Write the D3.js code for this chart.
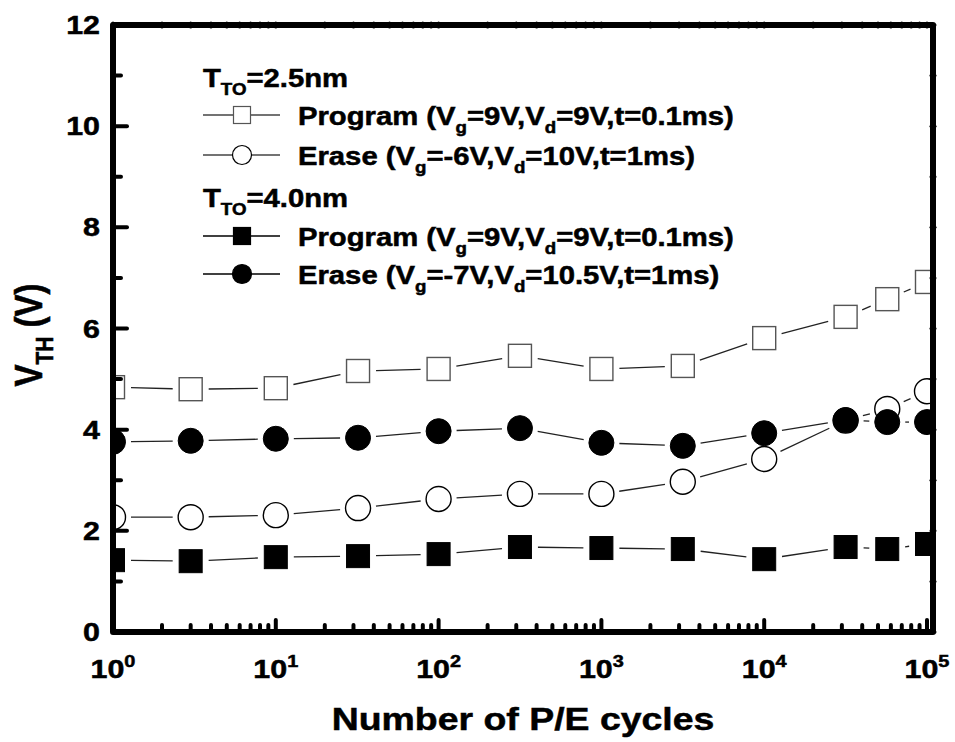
<!DOCTYPE html>
<html><head><meta charset="utf-8">
<script src="https://cdn.jsdelivr.net/npm/d3@7"></script>
<style>
html,body{margin:0;padding:0;background:#fff;}
svg{display:block;font-family:"Liberation Sans",Arial,sans-serif;font-weight:bold;}
svg text{stroke:#000;stroke-width:0.5px;}
</style></head>
<body><svg id="chart" width="955" height="742"></svg>
<script>
// ---- data ----
const cycles = [1, 3, 10, 32, 100, 316, 1000, 3162, 10000, 31623, 57000, 100000];
const progT25  = [4.84, 4.80, 4.82, 5.16, 5.20, 5.46, 5.20, 5.26, 5.81, 6.23, 6.58, 6.92];
const eraseT25 = [2.27, 2.27, 2.31, 2.45, 2.63, 2.73, 2.73, 2.97, 3.42, 4.18, 4.41, 4.76];
const progT40  = [1.42, 1.40, 1.48, 1.50, 1.54, 1.68, 1.66, 1.64, 1.44, 1.68, 1.64, 1.74];
const eraseT40 = [3.76, 3.78, 3.82, 3.84, 3.97, 4.03, 3.74, 3.68, 3.93, 4.19, 4.15, 4.15];
const yTickValues = [0, 2, 4, 6, 8, 10, 12];
const yMinorValues = [1, 3, 5, 7, 9, 11];
const xMajorExponents = [0, 1, 2, 3, 4, 5];
const legendHeaders = ["2.5nm", "4.0nm"];
const legendPrograms = [["9V", "9V", "0.1ms"], ["9V", "9V", "0.1ms"]];
const legendErases = [["-6V", "10V", "1ms"], ["-7V", "10.5V", "1ms"]];

const series = [
  {values: progT25,  shape: "square", filled: false},
  {values: eraseT25, shape: "circle", filled: false},
  {values: progT40,  shape: "square", filled: true},
  {values: eraseT40, shape: "circle", filled: true}
];

// ---- layout ----
const SX = 1.17; // horizontal stretch of the original image
const plot = {left: 113, right: 933, top: 25, bottom: 632};
const svg = d3.select("#chart");
const x = d3.scaleLog().domain([1, 1e5]).range([113, 927]);
const y = d3.scaleLinear().domain([0, 12]).range([plot.bottom, plot.top]);

svg.append("defs").append("clipPath").attr("id", "clip")
  .append("rect").attr("x", plot.left).attr("y", plot.top)
  .attr("width", plot.right - plot.left).attr("height", plot.bottom - plot.top);

function marker(g, shape, filled, cx, cy, size, strokeW) {
  if (shape === "square") {
    g.append("rect").attr("x", cx - size / 2).attr("y", cy - size / 2)
      .attr("width", size).attr("height", size)
      .attr("fill", filled ? "#000" : "#fff")
      .attr("stroke", filled ? "#000" : "#555").attr("stroke-width", strokeW);
  } else {
    g.append("circle").attr("cx", cx).attr("cy", cy).attr("r", size / 2)
      .attr("fill", filled ? "#000" : "#fff")
      .attr("stroke", "#000").attr("stroke-width", strokeW);
  }
}

// ---- data marks ----
const dataG = svg.append("g").attr("clip-path", "url(#clip)");
const GAP = 18;
series.forEach(s => {
  const g = dataG.append("g");
  const pts = cycles.map((c, i) => [x(c), y(s.values[i])]);
  for (let i = 0; i < pts.length - 1; i++) {
    const [x1, y1] = pts[i], [x2, y2] = pts[i + 1];
    const dx = x2 - x1, dy = y2 - y1, d = Math.hypot(dx, dy);
    if (d <= 2 * GAP) continue;
    const ux = dx / d, uy = dy / d;
    g.append("line")
      .attr("x1", x1 + ux * GAP).attr("y1", y1 + uy * GAP)
      .attr("x2", x2 - ux * GAP).attr("y2", y2 - uy * GAP)
      .attr("stroke", "#222").attr("stroke-width", 1.3);
  }
  pts.forEach(([px, py]) => marker(g, s.shape, s.filled, px, py, s.shape === "square" ? 23 : 25, s.filled ? 1 : 1.4));
});

// ---- axes / frame ----
const axG = svg.append("g").attr("stroke", "#000").attr("stroke-linecap", "round");
const allXTicks = x.ticks();
allXTicks.forEach(t => {
  const major = Math.abs(Math.log10(t) - Math.round(Math.log10(t))) < 1e-9;
  const len = major ? 12 : 7;
  axG.append("line").attr("x1", x(t)).attr("x2", x(t))
    .attr("y1", plot.bottom).attr("y2", plot.bottom - len).attr("stroke-width", 4);
  axG.append("line").attr("x1", x(t)).attr("x2", x(t))
    .attr("y1", plot.top - 2).attr("y2", plot.top + 2).attr("stroke-width", 3);
});
yTickValues.concat(yMinorValues).forEach(v => {
  const major = yTickValues.includes(v);
  const len = major ? 14 : 8;
  axG.append("line").attr("x1", plot.left).attr("x2", plot.left + len)
    .attr("y1", y(v)).attr("y2", y(v)).attr("stroke-width", 4);
  axG.append("line").attr("x1", plot.right - 2).attr("x2", plot.right + 2)
    .attr("y1", y(v)).attr("y2", y(v)).attr("stroke-width", 3);
});
axG.append("rect").attr("x", plot.left).attr("y", plot.top)
  .attr("width", plot.right - plot.left).attr("height", plot.bottom - plot.top)
  .attr("fill", "none").attr("stroke-width", 6).attr("stroke-linejoin", "round");

// ---- tick labels ----
function stretched(px, py, extra) {
  return svg.append("g").attr("transform", `translate(${px},${py}) scale(${SX},1)` + (extra || ""));
}
xMajorExponents.forEach(e => {
  const t = stretched(x(Math.pow(10, e)), 678).append("text")
    .attr("text-anchor", "middle").attr("font-size", 26).attr("fill", "#000");
  t.append("tspan").text("10");
  t.append("tspan").attr("font-size", 17).attr("dy", -11).text(String(e));
});
yTickValues.forEach(v => {
  stretched(100, y(v) + 9).append("text").attr("text-anchor", "end")
    .attr("font-size", 26).attr("fill", "#000").text(String(v));
});

// ---- axis titles ----
stretched(523, 730).append("text").attr("text-anchor", "middle")
  .attr("font-size", 32).attr("fill", "#000").text("Number of P/E cycles");
const yt = stretched(42, 335, " rotate(-90)").append("text").attr("text-anchor", "middle")
  .attr("font-size", 33).attr("fill", "#000");
yt.append("tspan").text("V");
yt.append("tspan").attr("font-size", 21).attr("dy", 9).text("TH");
yt.append("tspan").attr("dy", -9).text(" (V)");

// ---- legend ----
const FS = 25, SUB = 16, SD = 8;
function header(py, val) {
  const t = stretched(203, py).append("text").attr("font-size", FS).attr("fill", "#000");
  t.append("tspan").text("T");
  t.append("tspan").attr("font-size", SUB).attr("dy", SD).text("TO");
  t.append("tspan").attr("dy", -SD).text("=" + val);
}
function row(cy, shape, filled, kind, vals) {
  const g = svg.append("g");
  g.append("line").attr("x1", 203).attr("x2", 280).attr("y1", cy).attr("y2", cy)
    .attr("stroke", filled ? "#000" : "#444").attr("stroke-width", 1.3);
  marker(g, shape, filled, 242, cy, shape === "square" ? 17 : 19, 1.2);
  const t = stretched(298, cy + 10).append("text").attr("font-size", FS).attr("fill", "#000");
  t.append("tspan").text(kind + " (V");
  t.append("tspan").attr("font-size", SUB).attr("dy", SD).text("g");
  t.append("tspan").attr("dy", -SD).text("=" + vals[0] + ",V");
  t.append("tspan").attr("font-size", SUB).attr("dy", SD).text("d");
  t.append("tspan").attr("dy", -SD).text("=" + vals[1] + ",t=" + vals[2] + ")");
}
header(87, legendHeaders[0]);
row(115, "square", false, "Program", legendPrograms[0]);
row(155, "circle", false, "Erase", legendErases[0]);
header(207, legendHeaders[1]);
row(236, "square", true, "Program", legendPrograms[1]);
row(274, "circle", true, "Erase", legendErases[1]);
</script></body></html>
